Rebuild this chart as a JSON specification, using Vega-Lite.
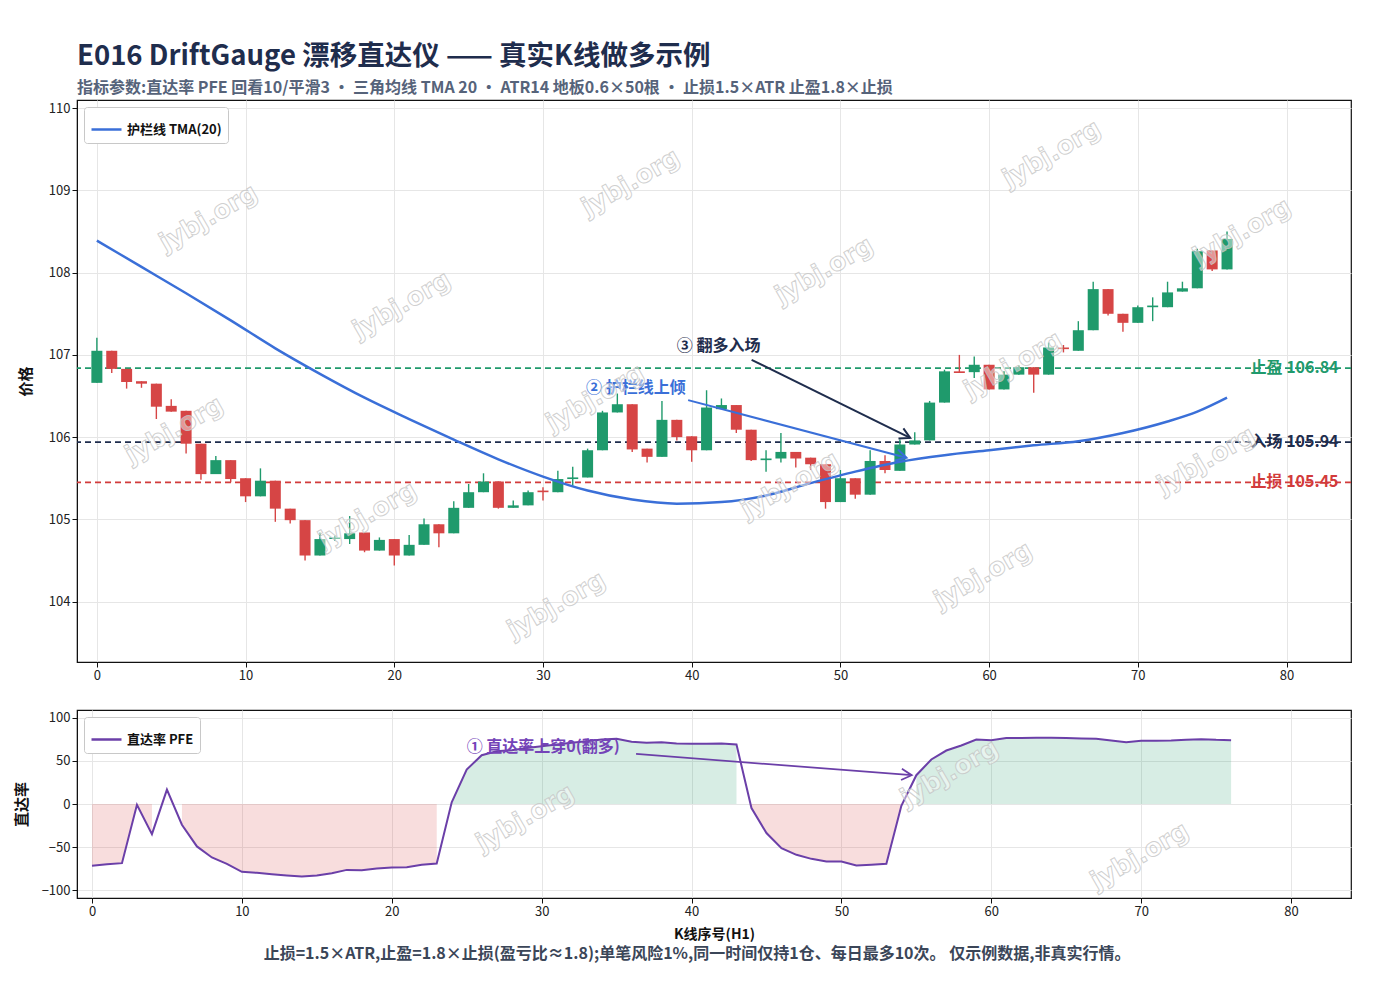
{
  "$schema": "https://vega.github.io/schema/vega-lite/v6.json",
  "padding": {"left": 13, "top": 42, "right": 10, "bottom": 10},
  "background": "white",
  "title": {
    "text": "E016 DriftGauge 漂移直达仪 —— 真实K线做多示例",
    "subtitle": "指标参数:直达率 PFE 回看10/平滑3 • 三角均线 TMA 20 • ATR14 地板0.6×50根 • 止损1.5×ATR 止盈1.8×止损",
    "anchor": "start",
    "frame": "group",
    "font": "Noto Sans CJK SC",
    "fontSize": 27.5,
    "fontWeight": "bold",
    "color": "#1f2d4d",
    "subtitleFont": "Noto Sans CJK SC",
    "subtitleFontSize": 16,
    "subtitleFontWeight": "bold",
    "subtitleColor": "#56637a",
    "subtitlePadding": 10,
    "offset": 3
  },
  "config": {
    "font": "Noto Sans CJK SC",
    "view": {"stroke": "#111", "strokeWidth": 1.2},
    "axis": {
      "domainColor": "#111",
      "tickColor": "#111",
      "tickSize": 5,
      "labelFontSize": 13,
      "labelColor": "#222",
      "labelFont": "Noto Sans CJK SC",
      "gridColor": "#e6e6e6",
      "titleFont": "Noto Sans CJK SC",
      "titleFontSize": 15,
      "titleFontWeight": "bold",
      "titleColor": "#111"
    },
    "legend": {
      "orient": "top-left",
      "offset": 7,
      "fillColor": "white",
      "strokeColor": "#c8c8c8",
      "cornerRadius": 3,
      "padding": 6,
      "labelFont": "Noto Sans CJK SC",
      "labelFontSize": 13,
      "labelFontWeight": "bold",
      "labelColor": "#111",
      "symbolSize": 900,
      "symbolStrokeWidth": 2.5,
      "title": null
    }
  },
  "resolve": {
    "scale": {"stroke": "independent", "color": "independent"},
    "legend": {"stroke": "independent"}
  },
  "datasets": {
    "candles": [
      {"i": 0, "o": 106.66, "h": 107.21, "l": 106.66, "c": 107.05},
      {"i": 1, "o": 107.05, "h": 107.05, "l": 106.78, "c": 106.83},
      {"i": 2, "o": 106.83, "h": 106.83, "l": 106.59, "c": 106.67},
      {"i": 3, "o": 106.68, "h": 106.68, "l": 106.6, "c": 106.65},
      {"i": 4, "o": 106.65, "h": 106.65, "l": 106.22, "c": 106.37},
      {"i": 5, "o": 106.38, "h": 106.46, "l": 106.31, "c": 106.31},
      {"i": 6, "o": 106.32, "h": 106.32, "l": 105.8, "c": 105.92},
      {"i": 7, "o": 105.92, "h": 105.92, "l": 105.48, "c": 105.55},
      {"i": 8, "o": 105.55, "h": 105.77, "l": 105.55, "c": 105.72},
      {"i": 9, "o": 105.72, "h": 105.72, "l": 105.45, "c": 105.49},
      {"i": 10, "o": 105.5, "h": 105.5, "l": 105.21, "c": 105.28},
      {"i": 11, "o": 105.28, "h": 105.62, "l": 105.28, "c": 105.47},
      {"i": 12, "o": 105.47, "h": 105.47, "l": 104.97, "c": 105.13},
      {"i": 13, "o": 105.13, "h": 105.13, "l": 104.95, "c": 104.99},
      {"i": 14, "o": 104.99, "h": 104.99, "l": 104.5, "c": 104.56},
      {"i": 15, "o": 104.56, "h": 104.84, "l": 104.56, "c": 104.76},
      {"i": 16, "o": 104.76, "h": 104.8, "l": 104.74, "c": 104.78},
      {"i": 17, "o": 104.76, "h": 105.04, "l": 104.7, "c": 104.83},
      {"i": 18, "o": 104.84, "h": 104.84, "l": 104.6, "c": 104.62},
      {"i": 19, "o": 104.62, "h": 104.78, "l": 104.62, "c": 104.75},
      {"i": 20, "o": 104.76, "h": 104.76, "l": 104.44, "c": 104.56},
      {"i": 21, "o": 104.56, "h": 104.81, "l": 104.56, "c": 104.69},
      {"i": 22, "o": 104.69, "h": 105.01, "l": 104.69, "c": 104.94},
      {"i": 23, "o": 104.94, "h": 104.94, "l": 104.66, "c": 104.83},
      {"i": 24, "o": 104.83, "h": 105.22, "l": 104.83, "c": 105.14},
      {"i": 25, "o": 105.14, "h": 105.43, "l": 105.14, "c": 105.33},
      {"i": 26, "o": 105.33, "h": 105.56, "l": 105.33, "c": 105.46},
      {"i": 27, "o": 105.46, "h": 105.46, "l": 105.13, "c": 105.14},
      {"i": 28, "o": 105.14, "h": 105.23, "l": 105.14, "c": 105.17},
      {"i": 29, "o": 105.17, "h": 105.35, "l": 105.17, "c": 105.33},
      {"i": 30, "o": 105.35, "h": 105.39, "l": 105.23, "c": 105.33},
      {"i": 31, "o": 105.33, "h": 105.59, "l": 105.33, "c": 105.49},
      {"i": 32, "o": 105.49, "h": 105.64, "l": 105.41, "c": 105.51},
      {"i": 33, "o": 105.51, "h": 105.86, "l": 105.51, "c": 105.84},
      {"i": 34, "o": 105.84, "h": 106.32, "l": 105.84, "c": 106.3},
      {"i": 35, "o": 106.3, "h": 106.53, "l": 106.3, "c": 106.4},
      {"i": 36, "o": 106.4, "h": 106.4, "l": 105.82, "c": 105.85},
      {"i": 37, "o": 105.86, "h": 105.86, "l": 105.69, "c": 105.76},
      {"i": 38, "o": 105.76, "h": 106.44, "l": 105.76, "c": 106.21},
      {"i": 39, "o": 106.21, "h": 106.21, "l": 105.96, "c": 106.0},
      {"i": 40, "o": 106.01, "h": 106.01, "l": 105.7, "c": 105.84},
      {"i": 41, "o": 105.84, "h": 106.57, "l": 105.84, "c": 106.36},
      {"i": 42, "o": 106.34, "h": 106.47, "l": 106.34, "c": 106.39},
      {"i": 43, "o": 106.39, "h": 106.39, "l": 106.05, "c": 106.09},
      {"i": 44, "o": 106.09, "h": 106.09, "l": 105.71, "c": 105.72},
      {"i": 45, "o": 105.72, "h": 105.84, "l": 105.58, "c": 105.74},
      {"i": 46, "o": 105.74, "h": 106.05, "l": 105.69, "c": 105.82},
      {"i": 47, "o": 105.82, "h": 105.82, "l": 105.63, "c": 105.74},
      {"i": 48, "o": 105.75, "h": 105.75, "l": 105.6, "c": 105.67},
      {"i": 49, "o": 105.67, "h": 105.67, "l": 105.13, "c": 105.21},
      {"i": 50, "o": 105.21, "h": 105.6, "l": 105.21, "c": 105.5},
      {"i": 51, "o": 105.5, "h": 105.5, "l": 105.25, "c": 105.3},
      {"i": 52, "o": 105.3, "h": 105.84, "l": 105.3, "c": 105.71},
      {"i": 53, "o": 105.71, "h": 105.78, "l": 105.56, "c": 105.6},
      {"i": 54, "o": 105.59, "h": 105.97, "l": 105.59, "c": 105.91},
      {"i": 55, "o": 105.91, "h": 106.06, "l": 105.91, "c": 105.96},
      {"i": 56, "o": 105.96, "h": 106.44, "l": 105.96, "c": 106.42},
      {"i": 57, "o": 106.42, "h": 106.82, "l": 106.42, "c": 106.8},
      {"i": 58, "o": 106.8, "h": 107.0, "l": 106.78, "c": 106.78},
      {"i": 59, "o": 106.79, "h": 106.98, "l": 106.72, "c": 106.88},
      {"i": 60, "o": 106.88, "h": 106.88, "l": 106.58, "c": 106.58},
      {"i": 61, "o": 106.58, "h": 106.8, "l": 106.58, "c": 106.76},
      {"i": 62, "o": 106.76, "h": 106.87, "l": 106.76, "c": 106.85},
      {"i": 63, "o": 106.85, "h": 106.85, "l": 106.54, "c": 106.76},
      {"i": 64, "o": 106.76, "h": 107.15, "l": 106.76, "c": 107.09},
      {"i": 65, "o": 107.09, "h": 107.12, "l": 107.03, "c": 107.07},
      {"i": 66, "o": 107.05, "h": 107.41, "l": 107.05, "c": 107.3},
      {"i": 67, "o": 107.3, "h": 107.89, "l": 107.3, "c": 107.8},
      {"i": 68, "o": 107.8, "h": 107.8, "l": 107.48, "c": 107.5},
      {"i": 69, "o": 107.5, "h": 107.5, "l": 107.28, "c": 107.39},
      {"i": 70, "o": 107.39, "h": 107.6, "l": 107.39, "c": 107.58},
      {"i": 71, "o": 107.58, "h": 107.7, "l": 107.41, "c": 107.6},
      {"i": 72, "o": 107.58, "h": 107.89, "l": 107.58, "c": 107.76},
      {"i": 73, "o": 107.77, "h": 107.89, "l": 107.77, "c": 107.81},
      {"i": 74, "o": 107.81, "h": 108.29, "l": 107.81, "c": 108.26},
      {"i": 75, "o": 108.27, "h": 108.27, "l": 108.02, "c": 108.04},
      {"i": 76, "o": 108.04, "h": 108.5, "l": 108.04, "c": 108.41}
    ],
    "tma": [
      {"i": 0, "v": 108.39}, {"i": 3, "v": 108.07}, {"i": 6, "v": 107.75},
      {"i": 9, "v": 107.42}, {"i": 12, "v": 107.08}, {"i": 15, "v": 106.77},
      {"i": 18, "v": 106.48}, {"i": 21, "v": 106.22}, {"i": 24, "v": 105.97},
      {"i": 27, "v": 105.73}, {"i": 30, "v": 105.52}, {"i": 33, "v": 105.35},
      {"i": 36, "v": 105.24}, {"i": 39, "v": 105.19}, {"i": 42, "v": 105.21},
      {"i": 45, "v": 105.29}, {"i": 48, "v": 105.44}, {"i": 51, "v": 105.58},
      {"i": 54, "v": 105.7}, {"i": 57, "v": 105.78}, {"i": 60, "v": 105.84},
      {"i": 63, "v": 105.9}, {"i": 66, "v": 105.95}, {"i": 69, "v": 106.05},
      {"i": 72, "v": 106.19}, {"i": 74, "v": 106.31}, {"i": 76, "v": 106.48}
    ],
    "pfe": [
      {"i": 0, "v": -71.7, "zone": "n1"}, {"i": 1, "v": -70, "zone": "n1"},
      {"i": 2, "v": -68.6, "zone": "n1"}, {"i": 3, "v": -1, "zone": "n1"},
      {"i": 4, "v": -34.9, "zone": "n1"}, {"i": 5, "v": 16.7, "zone": "p0"},
      {"i": 6, "v": -24, "zone": "n2"}, {"i": 7, "v": -49.2, "zone": "n2"},
      {"i": 8, "v": -62, "zone": "n2"}, {"i": 9, "v": -69.4, "zone": "n2"},
      {"i": 10, "v": -78.7, "zone": "n2"}, {"i": 11, "v": -79.8, "zone": "n2"},
      {"i": 12, "v": -81.4, "zone": "n2"}, {"i": 13, "v": -82.9, "zone": "n2"},
      {"i": 14, "v": -84.1, "zone": "n2"}, {"i": 15, "v": -82.9, "zone": "n2"},
      {"i": 16, "v": -80.2, "zone": "n2"}, {"i": 17, "v": -76.4, "zone": "n2"},
      {"i": 18, "v": -76.7, "zone": "n2"}, {"i": 19, "v": -74.8, "zone": "n2"},
      {"i": 20, "v": -73.6, "zone": "n2"}, {"i": 21, "v": -73.3, "zone": "n2"},
      {"i": 22, "v": -70.5, "zone": "n2"}, {"i": 23, "v": -69, "zone": "n2"},
      {"i": 24, "v": 2, "zone": "p1"}, {"i": 25, "v": 39.9, "zone": "p1"},
      {"i": 26, "v": 56.6, "zone": "p1"}, {"i": 27, "v": 61.2, "zone": "p1"},
      {"i": 28, "v": 62.4, "zone": "p1"}, {"i": 29, "v": 65, "zone": "p1"},
      {"i": 30, "v": 67, "zone": "p1"}, {"i": 31, "v": 69, "zone": "p1"},
      {"i": 32, "v": 70.9, "zone": "p1"}, {"i": 33, "v": 72.9, "zone": "p1"},
      {"i": 34, "v": 74.8, "zone": "p1"}, {"i": 35, "v": 75.6, "zone": "p1"},
      {"i": 36, "v": 72.1, "zone": "p1"}, {"i": 37, "v": 70.9, "zone": "p1"},
      {"i": 38, "v": 71.7, "zone": "p1"}, {"i": 39, "v": 70.2, "zone": "p1"},
      {"i": 40, "v": 69.8, "zone": "p1"}, {"i": 41, "v": 69.8, "zone": "p1"},
      {"i": 42, "v": 70.2, "zone": "p1"}, {"i": 43, "v": 69, "zone": "p1"},
      {"i": 44, "v": -4.7, "zone": "n3"}, {"i": 45, "v": -33.7, "zone": "n3"},
      {"i": 46, "v": -51.2, "zone": "n3"}, {"i": 47, "v": -58.9, "zone": "n3"},
      {"i": 48, "v": -63.6, "zone": "n3"}, {"i": 49, "v": -66.7, "zone": "n3"},
      {"i": 50, "v": -66.7, "zone": "n3"}, {"i": 51, "v": -71.3, "zone": "n3"},
      {"i": 52, "v": -70.5, "zone": "n3"}, {"i": 53, "v": -69.4, "zone": "n3"},
      {"i": 54, "v": -2, "zone": "n3"}, {"i": 55, "v": 33.4, "zone": "p2"},
      {"i": 56, "v": 51.6, "zone": "p2"}, {"i": 57, "v": 62, "zone": "p2"},
      {"i": 58, "v": 67.8, "zone": "p2"}, {"i": 59, "v": 74.8, "zone": "p2"},
      {"i": 60, "v": 74, "zone": "p2"}, {"i": 61, "v": 76.4, "zone": "p2"},
      {"i": 62, "v": 76.4, "zone": "p2"}, {"i": 63, "v": 76.7, "zone": "p2"},
      {"i": 64, "v": 76.7, "zone": "p2"}, {"i": 65, "v": 76.4, "zone": "p2"},
      {"i": 66, "v": 76, "zone": "p2"}, {"i": 67, "v": 75.6, "zone": "p2"},
      {"i": 68, "v": 73.6, "zone": "p2"}, {"i": 69, "v": 71.7, "zone": "p2"},
      {"i": 70, "v": 73.3, "zone": "p2"}, {"i": 71, "v": 73.3, "zone": "p2"},
      {"i": 72, "v": 73.6, "zone": "p2"}, {"i": 73, "v": 74.4, "zone": "p2"},
      {"i": 74, "v": 75.2, "zone": "p2"}, {"i": 75, "v": 74.4, "zone": "p2"},
      {"i": 76, "v": 74, "zone": "p2"}
    ],
    "levels": [
      {"role": "tp", "y": 106.84, "label": "止盈 106.84", "x": 83.5},
      {"role": "entry", "y": 105.94, "label": "入场 105.94", "x": 83.5},
      {"role": "sl", "y": 105.45, "label": "止损 105.45", "x": 83.5}
    ],
    "notes": [
      {"role": "entryNote", "x": 39.0, "y": 107.11, "label": "③ 翻多入场"},
      {"role": "tmaNote", "x": 32.9, "y": 106.6, "label": "② 护栏线上倾"}
    ],
    "arrows": [
      {"role": "entryNote", "x1": 44.03, "y1": 106.94, "x2": 54.69, "y2": 105.99},
      {"role": "tmaNote", "x1": 39.76, "y1": 106.45, "x2": 54.44, "y2": 105.75}
    ],
    "pfeNote": [
      {"x": 25.0, "y": 66.3, "label": "① 直达率上穿0(翻多)", "x1": 36.3, "y1": 58.1, "x2": 54.69, "y2": 33.4}
    ],
    "wmTop": [
      {"x": 7.5, "y": 108.67, "t": "jybj.org"},
      {"x": 35.9, "y": 109.1, "t": "jybj.org"},
      {"x": 64.2, "y": 109.45, "t": "jybj.org"},
      {"x": 20.5, "y": 107.61, "t": "jybj.org"},
      {"x": 48.9, "y": 108.03, "t": "jybj.org"},
      {"x": 77.0, "y": 108.5, "t": "jybj.org"},
      {"x": 5.2, "y": 106.09, "t": "jybj.org"},
      {"x": 33.5, "y": 106.48, "t": "jybj.org"},
      {"x": 61.6, "y": 106.88, "t": "jybj.org"},
      {"x": 18.2, "y": 105.05, "t": "jybj.org"},
      {"x": 46.6, "y": 105.42, "t": "jybj.org"},
      {"x": 74.6, "y": 105.72, "t": "jybj.org"},
      {"x": 30.9, "y": 103.96, "t": "jybj.org"},
      {"x": 59.6, "y": 104.32, "t": "jybj.org"}
    ],
    "wmBot": [
      {"x": 28.9, "y": -16, "t": "jybj.org"},
      {"x": 57.2, "y": 36, "t": "jybj.org"},
      {"x": 69.9, "y": -60, "t": "jybj.org"}
    ]
  },
  "spacing": 26,
  "vconcat": [
    {
      "width": 1274,
      "height": 562,
      "layer": [
        {
          "data": {"name": "levels"},
          "mark": {"type": "text", "align": "right", "baseline": "middle", "fontSize": 16, "fontWeight": "bold"},
          "encoding": {
            "x": {"field": "x", "type": "quantitative", "scale": {"domain": [-1, 84], "nice": false, "zero": false},
              "axis": {"values": [0, 10, 20, 30, 40, 50, 60, 70, 80], "title": null, "grid": true}},
            "y": {"field": "y", "type": "quantitative", "scale": {"domain": [103.265, 110.1], "nice": false, "zero": false},
              "axis": {"values": [104, 105, 106, 107, 108, 109, 110], "format": "d", "title": "价格", "titlePadding": 15, "grid": true}},
            "text": {"field": "label"},
            "color": {"field": "role", "type": "nominal", "legend": null,
              "scale": {"domain": ["tp", "entry", "sl", "entryNote", "tmaNote"],
                "range": ["#1f9a6c", "#1f2d4d", "#d23b3b", "#1f2d4d", "#3a6fd8"]}}
          }
        },
        {
          "data": {"name": "levels"},
          "mark": {"type": "rule", "strokeDash": [6, 4], "strokeWidth": 1.7},
          "encoding": {
            "y": {"field": "y", "type": "quantitative"},
            "color": {"field": "role", "type": "nominal", "legend": null}
          }
        },
        {
          "mark": {"type": "rule", "color": "#888", "strokeDash": [2, 3], "strokeWidth": 1.3},
          "encoding": {"x": {"datum": 55, "type": "quantitative"}}
        },
        {
          "data": {"name": "candles"},
          "mark": {"type": "rule", "strokeWidth": 1.4},
          "encoding": {
            "x": {"field": "i", "type": "quantitative"},
            "y": {"field": "l", "type": "quantitative"},
            "y2": {"field": "h"},
            "color": {"condition": {"test": "datum.c >= datum.o", "value": "#1f9a6c"}, "value": "#d64545"}
          }
        },
        {
          "data": {"name": "candles"},
          "mark": {"type": "bar", "size": 11},
          "encoding": {
            "x": {"field": "i", "type": "quantitative"},
            "y": {"field": "o", "type": "quantitative"},
            "y2": {"field": "c"},
            "color": {"condition": {"test": "datum.c >= datum.o", "value": "#1f9a6c"}, "value": "#d64545"}
          }
        },
        {
          "data": {"name": "tma"},
          "mark": {"type": "line", "strokeWidth": 2.5, "interpolate": "monotone"},
          "encoding": {
            "x": {"field": "i", "type": "quantitative"},
            "y": {"field": "v", "type": "quantitative"},
            "stroke": {"datum": "护栏线 TMA(20)", "scale": {"range": ["#3a6fd8"]}, "legend": {"symbolType": "stroke"}}
          }
        },
        {
          "data": {"name": "notes"},
          "mark": {"type": "text", "align": "left", "baseline": "middle", "fontSize": 16, "fontWeight": "bold"},
          "encoding": {
            "x": {"field": "x", "type": "quantitative"},
            "y": {"field": "y", "type": "quantitative"},
            "text": {"field": "label"},
            "color": {"field": "role", "type": "nominal", "legend": null}
          }
        },
        {
          "data": {"name": "arrows"},
          "mark": {"type": "rule", "strokeWidth": 2},
          "encoding": {
            "x": {"field": "x1", "type": "quantitative"},
            "y": {"field": "y1", "type": "quantitative"},
            "x2": {"field": "x2"},
            "y2": {"field": "y2"},
            "color": {"field": "role", "type": "nominal", "legend": null}
          }
        },
        {
          "data": {"name": "arrows"},
          "transform": [{"filter": "datum.role == 'entryNote'"}],
          "mark": {"type": "point", "shape": "M-1,-0.55L0,0L-1,0.55", "size": 420, "filled": false, "strokeWidth": 2, "angle": 26, "opacity": 1},
          "encoding": {
            "x": {"field": "x2", "type": "quantitative"},
            "y": {"field": "y2", "type": "quantitative"},
            "color": {"field": "role", "type": "nominal", "legend": null}
          }
        },
        {
          "data": {"name": "arrows"},
          "transform": [{"filter": "datum.role == 'tmaNote'"}],
          "mark": {"type": "point", "shape": "M-1,-0.55L0,0L-1,0.55", "size": 420, "filled": false, "strokeWidth": 2, "angle": 15, "opacity": 1},
          "encoding": {
            "x": {"field": "x2", "type": "quantitative"},
            "y": {"field": "y2", "type": "quantitative"},
            "color": {"field": "role", "type": "nominal", "legend": null}
          }
        },
        {
          "data": {"name": "wmTop"},
          "mark": {"type": "text", "font": "DejaVu Sans", "fontSize": 25, "fontWeight": "bold", "angle": -30, "align": "center", "baseline": "middle",
            "fill": "#ffffff", "fillOpacity": 0.45, "stroke": "#c4c4c4", "strokeWidth": 1, "strokeOpacity": 0.8},
          "encoding": {
            "x": {"field": "x", "type": "quantitative"},
            "y": {"field": "y", "type": "quantitative"},
            "text": {"field": "t"}
          }
        }
      ]
    },
    {
      "width": 1274,
      "height": 188,
      "title": {
        "text": "止损=1.5×ATR,止盈=1.8×止损(盈亏比≈1.8);单笔风险1%,同一时间仅持1仓、每日最多10次。  仅示例数据,非真实行情。",
        "orient": "bottom",
        "anchor": "middle",
        "frame": "group",
        "dx": -17,
        "offset": 5,
        "fontSize": 16,
        "fontWeight": "bold",
        "color": "#3b4658",
        "font": "Noto Sans CJK SC"
      },
      "layer": [
        {
          "data": {"name": "pfe"},
          "mark": {"type": "area", "opacity": 0.18},
          "encoding": {
            "x": {"field": "i", "type": "quantitative", "scale": {"domain": [-1, 84], "nice": false, "zero": false},
              "axis": {"values": [0, 10, 20, 30, 40, 50, 60, 70, 80], "title": "K线序号(H1)", "titlePadding": 9, "titleFontSize": 14, "grid": true}},
            "y": {"field": "v", "type": "quantitative", "scale": {"domain": [-109, 109], "nice": false},
              "axis": {"values": [-100, -50, 0, 50, 100], "title": "直达率", "titlePadding": 12, "grid": true}},
            "y2": {"datum": 0},
            "detail": {"field": "zone"},
            "color": {"condition": {"test": "datum.v > 0", "value": "#1f9a6c"}, "value": "#d64545"}
          }
        },
        {
          "mark": {"type": "rule", "color": "#666", "strokeWidth": 1.6},
          "encoding": {"y": {"datum": 0, "type": "quantitative"}}
        },
        {
          "mark": {"type": "rule", "color": "#888", "strokeDash": [2, 3], "strokeWidth": 1.3},
          "encoding": {"x": {"datum": 55, "type": "quantitative"}}
        },
        {
          "data": {"name": "pfe"},
          "mark": {"type": "line", "strokeWidth": 2},
          "encoding": {
            "x": {"field": "i", "type": "quantitative"},
            "y": {"field": "v", "type": "quantitative"},
            "stroke": {"datum": "直达率 PFE", "scale": {"range": ["#6b3fa8"]}, "legend": {"symbolType": "stroke"}}
          }
        },
        {
          "data": {"name": "pfeNote"},
          "mark": {"type": "text", "align": "left", "baseline": "middle", "fontSize": 16, "fontWeight": "bold", "color": "#7443b8"},
          "encoding": {
            "x": {"field": "x", "type": "quantitative"},
            "y": {"field": "y", "type": "quantitative"},
            "text": {"field": "label"}
          }
        },
        {
          "data": {"name": "pfeNote"},
          "mark": {"type": "rule", "strokeWidth": 1.8, "color": "#6b3fa8"},
          "encoding": {
            "x": {"field": "x1", "type": "quantitative"},
            "y": {"field": "y1", "type": "quantitative"},
            "x2": {"field": "x2"},
            "y2": {"field": "y2"}
          }
        },
        {
          "data": {"name": "pfeNote"},
          "mark": {"type": "point", "shape": "M-1,-0.55L0,0L-1,0.55", "size": 420, "filled": false, "strokeWidth": 1.8, "angle": 4.4, "color": "#6b3fa8", "opacity": 1},
          "encoding": {
            "x": {"field": "x2", "type": "quantitative"},
            "y": {"field": "y2", "type": "quantitative"}
          }
        },
        {
          "data": {"name": "wmBot"},
          "mark": {"type": "text", "font": "DejaVu Sans", "fontSize": 25, "fontWeight": "bold", "angle": -30, "align": "center", "baseline": "middle",
            "fill": "#ffffff", "fillOpacity": 0.45, "stroke": "#c4c4c4", "strokeWidth": 1, "strokeOpacity": 0.8},
          "encoding": {
            "x": {"field": "x", "type": "quantitative"},
            "y": {"field": "y", "type": "quantitative"},
            "text": {"field": "t"}
          }
        }
      ]
    }
  ]
}
